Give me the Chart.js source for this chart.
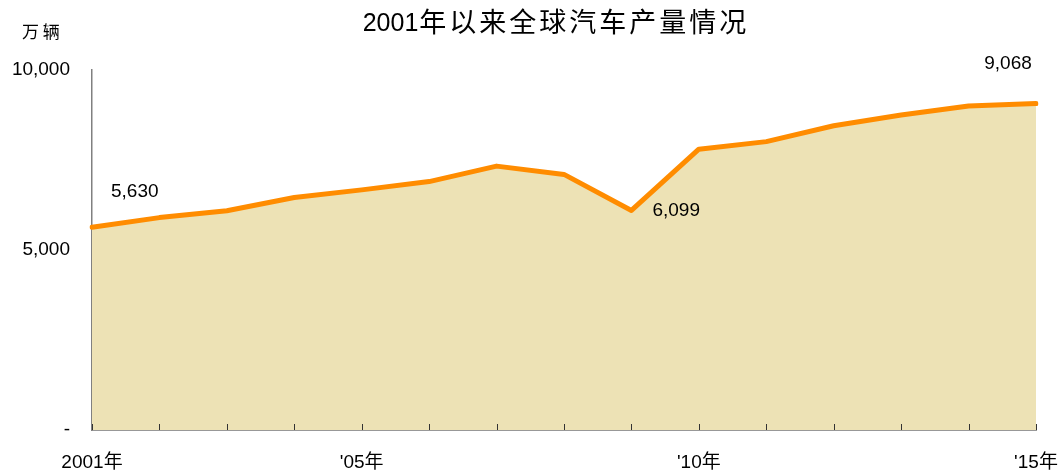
<!DOCTYPE html>
<html>
<head>
<meta charset="utf-8">
<script src="https://cdn.jsdelivr.net/npm/chart.js@4/dist/chart.umd.min.js"></script>
<style>
  html, body { margin: 0; padding: 0; background: #fff; }
  #wrap { width: 1061px; height: 475px; }
</style>
</head>
<body>
<div id="wrap"><canvas id="myChart" width="1061" height="475"></canvas></div>
<script>
// data
const years = ["2001","2002","2003","2004","2005","2006","2007","2008","2009","2010","2011","2012","2013","2014","2015"]
const xTickLabels = ["2001年","","","","'05年","","","","","'10年","","","","","'15年"]
const production = [5630, 5900, 6090, 6460, 6670, 6900, 7330, 7100, 6099, 7800, 8010, 8450, 8750, 9000, 9068]
const labelledPoints = [0, 8, 14]
const chartTitle = "2001年以来全球汽车产量情况"
const unitLabel = "万 辆"

const fontFamily = "'Liberation Sans', Arial, 'Noto Sans CJK SC', sans-serif"
const cjkFont = "'Noto Sans CJK SC', sans-serif"

// title, unit text, inward x ticks and value labels
const extras = {
    id: 'extras',
    afterDraw(chart) {
        const ctx = chart.ctx
        const x = chart.scales.x
        const y = chart.scales.y
        const area = chart.chartArea
        ctx.save()

        // title: digits + CJK part with wider spacing
        ctx.fillStyle = '#000'
        ctx.textBaseline = 'middle'
        ctx.textAlign = 'left'
        let digits = chartTitle.slice(0, 4)
        let rest = chartTitle.slice(4)
        let spacing = 3
        ctx.font = "25px " + fontFamily
        let w1 = ctx.measureText(digits).width
        ctx.font = "27px " + cjkFont
        ctx.letterSpacing = spacing + 'px'
        let w2 = ctx.measureText(rest).width - spacing
        let start = 554 - (w1 + w2) / 2
        ctx.font = "25px " + fontFamily
        ctx.letterSpacing = '0px'
        ctx.fillText(digits, start, 24)
        ctx.font = "27px " + cjkFont
        ctx.letterSpacing = spacing + 'px'
        ctx.fillText(rest, start + w1 + 1, 22)
        ctx.letterSpacing = '0px'

        // unit
        ctx.font = "17px " + cjkFont
        ctx.fillText(unitLabel, 22, 32)

        // inward tick marks on x axis
        ctx.strokeStyle = '#333'
        ctx.lineWidth = 1
        for (let i = 0; i < years.length; i++) {
            let px = Math.round(x.getPixelForTick(i)) + 0.5
            ctx.beginPath()
            ctx.moveTo(px, area.bottom)
            ctx.lineTo(px, area.bottom - 6)
            ctx.stroke()
        }

        // value labels
        ctx.font = "19px " + fontFamily
        ctx.fillStyle = '#000'
        labelledPoints.forEach((idx) => {
            let px = x.getPixelForValue(idx)
            let py = y.getPixelForValue(production[idx])
            let txt = production[idx].toLocaleString('en-US')
            if (idx == 0) {
                ctx.textAlign = 'left'
                ctx.fillText(txt, px + 19, py - 36)
            } else if (idx == years.length - 1) {
                ctx.textAlign = 'center'
                ctx.fillText(txt, px - 28, py - 40)
            } else {
                ctx.textAlign = 'left'
                ctx.fillText(txt, px + 21, py)
            }
        })
        ctx.restore()
    }
}

const ctx = document.getElementById('myChart')
const myChart = new Chart(ctx, {
    type: 'line',
    data: {
        labels: years,
        datasets: [{
            label: '产量',
            data: production,
            borderColor: '#FF8C00',
            backgroundColor: '#EDE2B5',
            borderWidth: 5,
            fill: 'origin',
            pointRadius: 0,
            tension: 0,
            borderJoinStyle: 'round',
            borderCapStyle: 'round'
        }]
    },
    options: {
        responsive: false,
        animation: false,
        layout: { padding: { top: 70, right: 25, left: 0, bottom: 0 } },
        plugins: {
            legend: { display: false },
            tooltip: { enabled: false },
            title: { display: false }
        },
        scales: {
            x: {
                offset: false,
                grid: { display: true, drawOnChartArea: false, drawTicks: false },
                border: { display: true, color: '#333', width: 1.5 },
                ticks: {
                    autoSkip: false,
                    maxRotation: 0,
                    padding: 21,
                    color: '#000',
                    font: { size: 19, family: fontFamily },
                    callback: (v, i) => xTickLabels[i]
                },
                afterFit: (scale) => {
                    scale.height = 45
                    scale.paddingLeft = 0
                    scale.paddingRight = 0
                }
            },
            y: {
                min: 0,
                max: 10000,
                grid: { display: true, drawOnChartArea: false, drawTicks: false },
                border: { display: true, color: '#808080', width: 1.5 },
                ticks: {
                    stepSize: 5000,
                    padding: 22,
                    color: '#000',
                    font: { size: 19, family: fontFamily },
                    callback: (v) => v == 0 ? '-' : v.toLocaleString('en-US')
                },
                afterFit: (scale) => {
                    scale.width = 92
                    scale.paddingTop = 0
                    scale.paddingBottom = 0
                }
            }
        }
    },
    plugins: [extras]
})
</script>
</body>
</html>
